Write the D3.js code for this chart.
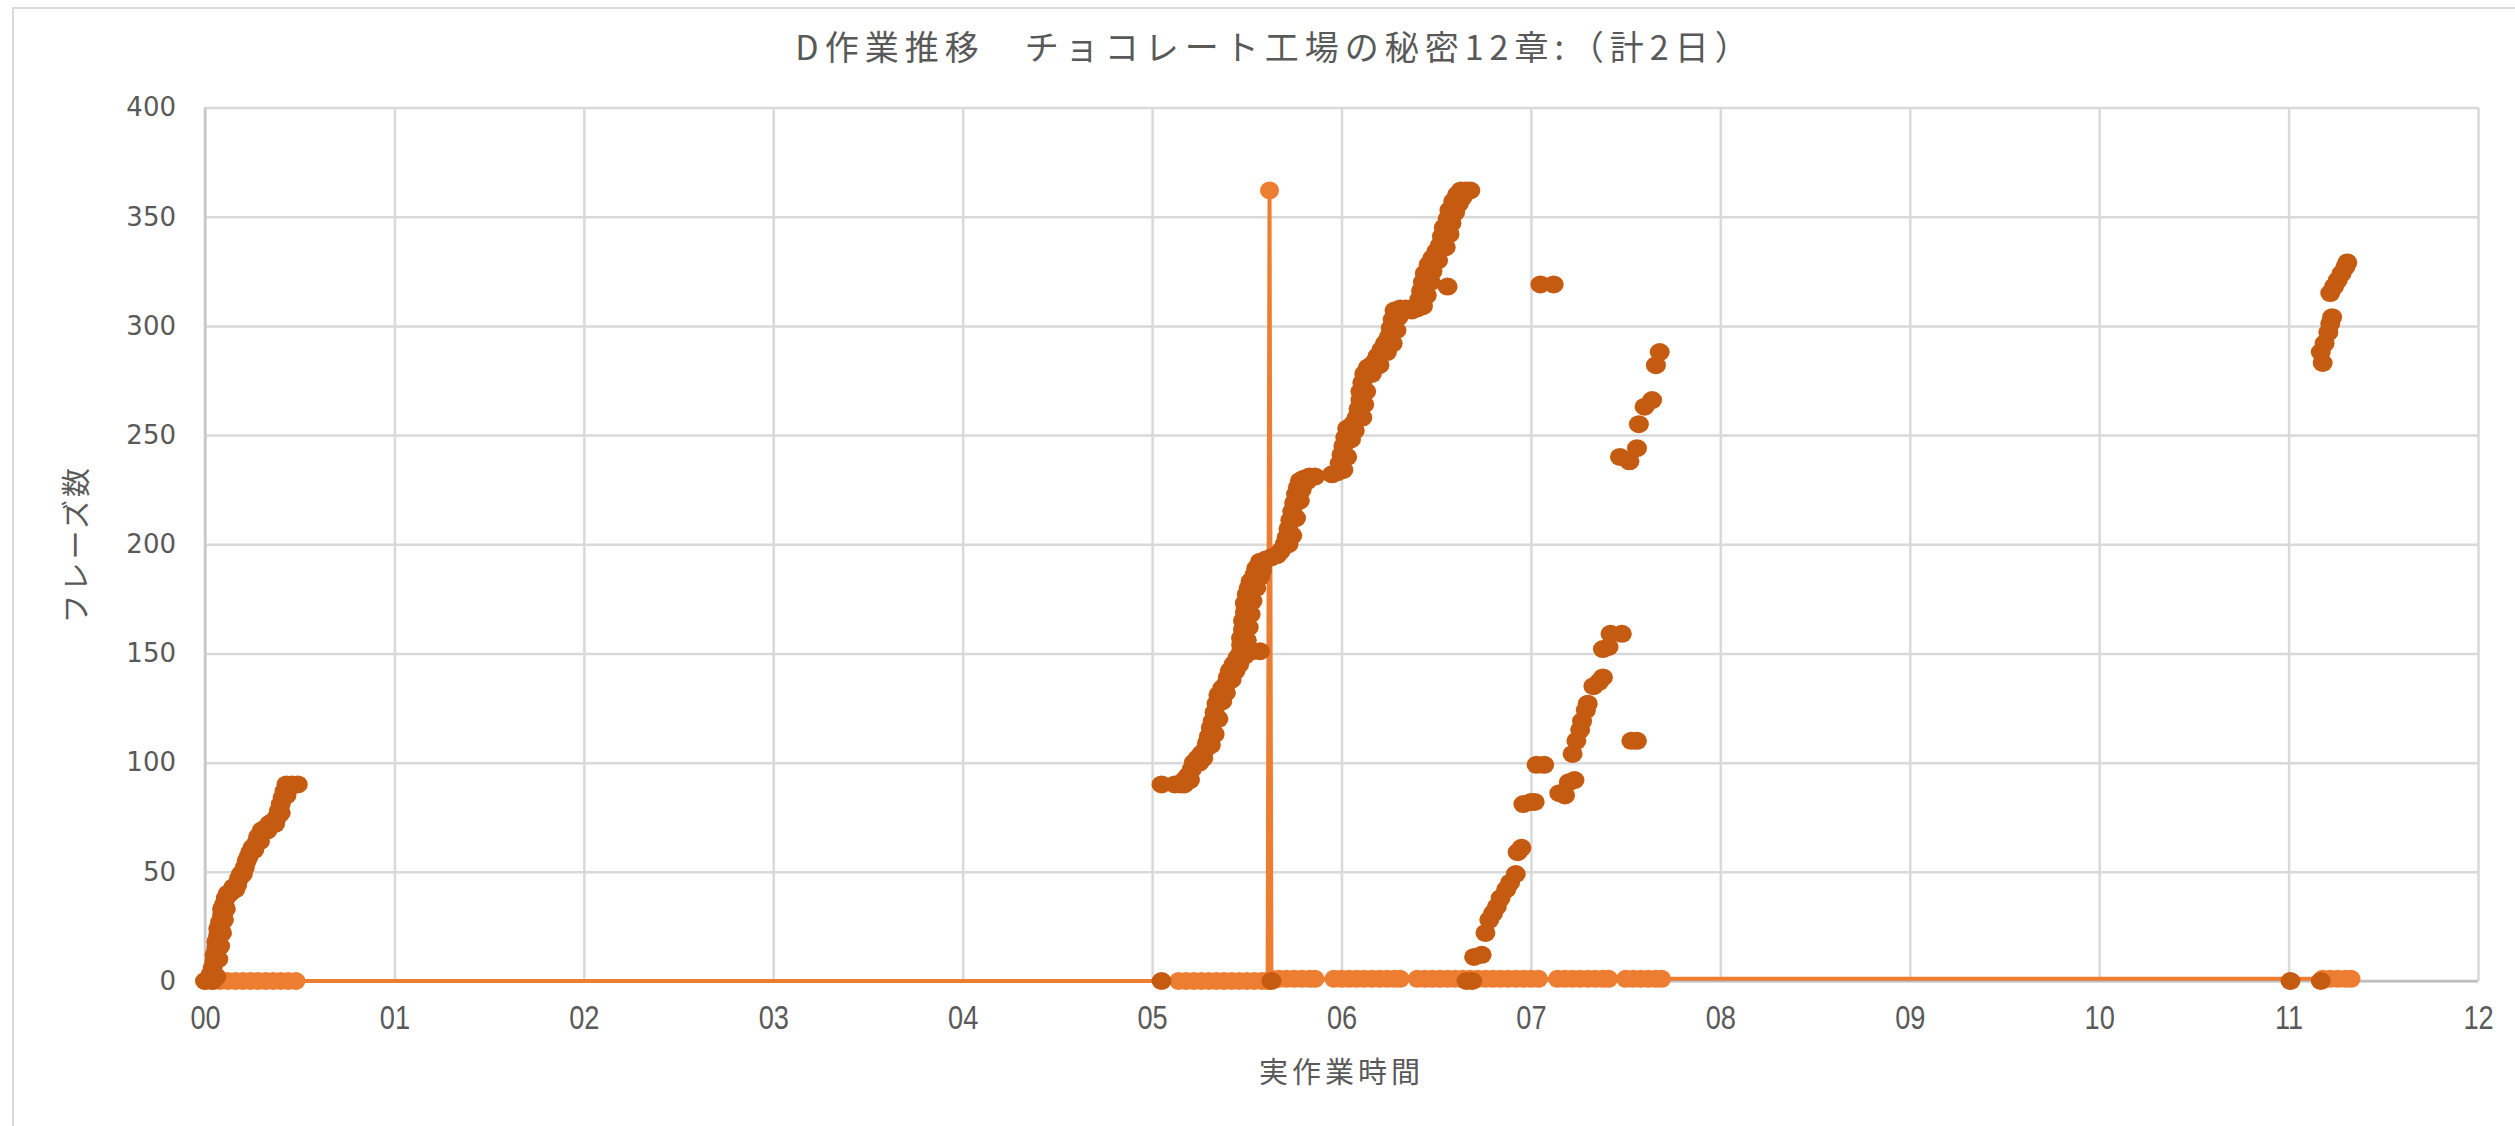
<!DOCTYPE html>
<html>
<head>
<meta charset="utf-8">
<script src="https://cdn.jsdelivr.net/npm/d3@7"></script>
<style>
  html, body { margin: 0; padding: 0; background: #ffffff; }
  svg { display: block; }
</style>
</head>
<body>
<svg id="chart" width="2515" height="1126"></svg>
<script>
// ---- chart text ----
const chartTitle = "D作業推移　チョコレート工場の秘密12章:（計2日）";
const xAxisTitle = "実作業時間";
const yAxisTitle = "フレーズ数";

// ---- axis ticks ----
const xTickValues = [0, 1, 2, 3, 4, 5, 6, 7, 8, 9, 10, 11, 12];
const xTickLabels = ["00", "01", "02", "03", "04", "05", "06", "07", "08", "09", "10", "11", "12"];
const yTickValues = [0, 50, 100, 150, 200, 250, 300, 350, 400];

// ---- phrase count against working time (hours) ----
const session1 = [
  [0.00, 0], [0.02, 1], [0.04, 0], [0.06, 2], [0.03, 3], [0.04, 6], [0.05, 9], [0.05, 12],
  [0.06, 15], [0.06, 18], [0.07, 21], [0.07, 24], [0.08, 27], [0.09, 30], [0.09, 33], [0.10, 35],
  [0.07, 10], [0.08, 16], [0.09, 22], [0.10, 28], [0.11, 33],
  [0.11, 38], [0.12, 40], [0.13, 40], [0.14, 41], [0.15, 43], [0.16, 42], [0.17, 44], [0.18, 47],
  [0.19, 49], [0.20, 49], [0.21, 52], [0.22, 55], [0.23, 57], [0.24, 59], [0.25, 61], [0.26, 60],
  [0.27, 63], [0.28, 66], [0.29, 64], [0.30, 69], [0.32, 70], [0.33, 69], [0.34, 72], [0.36, 73],
  [0.37, 72], [0.38, 75], [0.39, 78], [0.40, 81], [0.40, 77], [0.41, 84], [0.42, 87], [0.43, 85],
  [0.43, 90], [0.44, 88], [0.46, 90], [0.49, 90]
];
const session2 = [
  [5.05, 0], [5.05, 90], [5.12, 90], [5.15, 90], [5.17, 90], [5.17, 92], [5.19, 94], [5.20, 92],
  [5.21, 97], [5.22, 100], [5.24, 102], [5.25, 100], [5.26, 104], [5.27, 102], [5.28, 106],
  [5.29, 109], [5.30, 112], [5.31, 108], [5.31, 116], [5.32, 119], [5.33, 113], [5.33, 123],
  [5.34, 127], [5.35, 120], [5.35, 131], [5.37, 128], [5.37, 134], [5.39, 132], [5.39, 136],
  [5.40, 139], [5.41, 142], [5.42, 138], [5.43, 145], [5.44, 142], [5.45, 148], [5.46, 145],
  [5.47, 151], [5.49, 149], [5.50, 151], [5.53, 151], [5.57, 151],
  [5.47, 154], [5.47, 157], [5.48, 161], [5.48, 165], [5.49, 169], [5.49, 173], [5.50, 177],
  [5.50, 156], [5.51, 162], [5.52, 168], [5.53, 174], [5.55, 180], [5.57, 185], [5.58, 188],
  [5.51, 180], [5.52, 183], [5.54, 186], [5.55, 189], [5.57, 192], [5.60, 193], [5.63, 194],
  [5.66, 195], [5.68, 197], [5.70, 200], [5.72, 200], [5.71, 203], [5.74, 204], [5.72, 207],
  [5.73, 211], [5.76, 212], [5.74, 215], [5.75, 219], [5.78, 220], [5.76, 223], [5.77, 226],
  [5.79, 225], [5.78, 229], [5.80, 230], [5.82, 229], [5.83, 231], [5.86, 231],
  [5.63, 0],
  [5.95, 232], [5.98, 233], [5.99, 237], [6.01, 234], [6.00, 241], [6.03, 240], [6.01, 245],
  [6.02, 249], [6.05, 248], [6.03, 253], [6.07, 252], [6.06, 255], [6.08, 258], [6.11, 258],
  [6.09, 262], [6.12, 264], [6.10, 266], [6.10, 270], [6.13, 270], [6.11, 274], [6.12, 278],
  [6.16, 278], [6.14, 281], [6.17, 283], [6.20, 282], [6.19, 286], [6.21, 289], [6.24, 288],
  [6.23, 292], [6.27, 292], [6.25, 295], [6.26, 299], [6.29, 298], [6.27, 303], [6.30, 304],
  [6.28, 307], [6.31, 308], [6.34, 308], [6.37, 307], [6.40, 308], [6.43, 309], [6.41, 312],
  [6.45, 314], [6.42, 316], [6.43, 320], [6.47, 320], [6.44, 324], [6.48, 325], [6.46, 328],
  [6.51, 330], [6.48, 331], [6.50, 334], [6.52, 337], [6.55, 336], [6.53, 341], [6.57, 342],
  [6.54, 345], [6.58, 347], [6.56, 349], [6.60, 352], [6.57, 353], [6.62, 356], [6.59, 357],
  [6.64, 359], [6.61, 360], [6.63, 362], [6.66, 362], [6.68, 362], [6.56, 318]
];
const session3 = [
  [6.66, 0], [6.69, 0], [6.70, 11], [6.74, 12], [6.76, 22], [6.78, 28], [6.80, 31], [6.82, 34],
  [6.84, 38], [6.87, 42], [6.89, 45], [6.92, 49], [6.93, 59], [6.95, 61], [6.96, 81], [7.00, 82],
  [7.02, 82], [7.03, 99], [7.07, 99], [7.15, 86], [7.18, 85], [7.20, 91], [7.23, 92], [7.22, 104],
  [7.24, 110], [7.26, 115], [7.27, 119], [7.29, 124], [7.30, 127], [7.33, 135], [7.36, 137],
  [7.38, 139], [7.38, 152], [7.41, 153], [7.42, 159], [7.48, 159], [7.53, 110], [7.56, 110],
  [7.05, 319], [7.12, 319], [7.47, 240], [7.52, 238], [7.56, 244], [7.57, 255], [7.60, 263],
  [7.64, 266], [7.66, 282], [7.68, 288]
];
const session4 = [
  [11.01, 0], [11.17, 0], [11.18, 283], [11.17, 288], [11.19, 292], [11.21, 297], [11.22, 301],
  [11.23, 304], [11.22, 315], [11.24, 318], [11.26, 321], [11.28, 324], [11.30, 327], [11.31, 329]
];

// ---- work marker series (line with markers) ----
const workMarks = [
  [0.00, 0], [0.04, 0], [0.08, 0], [0.12, 0], [0.16, 0], [0.20, 0], [0.24, 0], [0.28, 0],
  [0.32, 0], [0.36, 0], [0.40, 0], [0.44, 0], [0.48, 0],
  [5.14, 0], [5.18, 0], [5.22, 0], [5.26, 0], [5.30, 0], [5.34, 0], [5.38, 0], [5.42, 0],
  [5.46, 0], [5.50, 0], [5.54, 0], [5.58, 0], [5.61, 0],
  [5.62, 362],
  [5.63, 1], [5.67, 1], [5.71, 1], [5.75, 1], [5.79, 1], [5.83, 1], [5.86, 1],
  [5.96, 1], [6.00, 1], [6.04, 1], [6.08, 1], [6.12, 1], [6.16, 1], [6.20, 1], [6.24, 1],
  [6.28, 1], [6.31, 1],
  [6.40, 1], [6.44, 1], [6.48, 1], [6.52, 1], [6.56, 1], [6.60, 1], [6.64, 1], [6.68, 1],
  [6.72, 1], [6.76, 1], [6.80, 1], [6.84, 1], [6.88, 1], [6.92, 1], [6.96, 1], [7.00, 1], [7.04, 1],
  [7.14, 1], [7.18, 1], [7.22, 1], [7.26, 1], [7.30, 1], [7.34, 1], [7.38, 1], [7.41, 1],
  [7.50, 1], [7.54, 1], [7.58, 1], [7.62, 1], [7.66, 1], [7.69, 1],
  [11.18, 1], [11.22, 1], [11.26, 1], [11.30, 1], [11.33, 1]
];

const phrasePoints = [].concat(session1, session2, session3, session4);

// ---- layout ----
const svg = d3.select("#chart");
const plot = { left: 205, right: 2478, top: 107.5, bottom: 981 };
const x = d3.scaleLinear().domain([0, 12]).range([plot.left, plot.right]);
const y = d3.scaleLinear().domain([0, 400]).range([plot.bottom, plot.top]);

const textColor = "#595959";
const gridColor = "#d9d9d9";
const lightOrange = "#ED7D31";
const darkOrange = "#C55A11";

// outer chart border
svg.append("rect")
  .attr("x", 13).attr("y", 8)
  .attr("width", 2600).attr("height", 1300)
  .attr("fill", "none").attr("stroke", gridColor).attr("stroke-width", 2);

// gridlines
const gridY = svg.append("g")
  .attr("transform", `translate(${plot.left},0)`)
  .call(d3.axisLeft(y).tickValues(yTickValues).tickSize(-(plot.right - plot.left)).tickFormat(""));
gridY.select(".domain").remove();
gridY.selectAll("line").attr("stroke", gridColor).attr("stroke-width", 2.5);

const gridX = svg.append("g")
  .attr("transform", `translate(0,${plot.bottom})`)
  .call(d3.axisBottom(x).tickValues(xTickValues).tickSize(-(plot.bottom - plot.top)).tickFormat(""));
gridX.select(".domain").remove();
gridX.selectAll("line").attr("stroke", gridColor).attr("stroke-width", 2.5);

// axis lines
svg.append("line")
  .attr("x1", plot.left).attr("x2", plot.right)
  .attr("y1", y(0)).attr("y2", y(0))
  .attr("stroke", "#bfbfbf").attr("stroke-width", 2.5);
svg.append("line")
  .attr("x1", x(0)).attr("x2", x(0))
  .attr("y1", plot.top).attr("y2", plot.bottom)
  .attr("stroke", "#c8c8c8").attr("stroke-width", 2.5);

// tick labels
const yAxis = svg.append("g")
  .attr("transform", `translate(${plot.left},0)`)
  .call(d3.axisLeft(y).tickValues(yTickValues).tickSize(0).tickPadding(29));
yAxis.select(".domain").remove();
yAxis.selectAll("text")
  .attr("fill", textColor)
  .style("font-family", "'DejaVu Sans', sans-serif")
  .style("font-size", "26px");

const xAxis = svg.append("g")
  .attr("transform", `translate(0,${plot.bottom})`)
  .call(d3.axisBottom(x).tickValues(xTickValues).tickSize(0).tickPadding(24)
    .tickFormat((d, i) => xTickLabels[i]));
xAxis.select(".domain").remove();
xAxis.selectAll("text")
  .attr("fill", textColor)
  .attr("transform", "scale(0.8,1)")
  .style("font-family", "'Liberation Sans', sans-serif")
  .style("font-size", "34px");

// work marker series: line then markers
svg.append("path")
  .datum(workMarks)
  .attr("fill", "none")
  .attr("stroke", lightOrange)
  .attr("stroke-width", 4)
  .attr("stroke-linejoin", "round")
  .attr("d", d3.line().x(d => x(d[0])).y(d => y(d[1])));

svg.append("g").selectAll("ellipse")
  .data(workMarks)
  .join("ellipse")
  .attr("cx", d => x(d[0])).attr("cy", d => y(d[1]))
  .attr("rx", 9.5).attr("ry", 9)
  .attr("fill", lightOrange);

// phrase count markers
svg.append("g").selectAll("ellipse")
  .data(phrasePoints)
  .join("ellipse")
  .attr("cx", d => x(d[0])).attr("cy", d => y(d[1]))
  .attr("rx", 10).attr("ry", 9)
  .attr("fill", darkOrange);

// titles
svg.append("text")
  .attr("x", 1275).attr("y", 60)
  .attr("text-anchor", "middle")
  .attr("fill", textColor)
  .style("font-family", "'Noto Sans CJK JP', sans-serif")
  .style("font-size", "34px")
  .style("letter-spacing", "6px")
  .text(chartTitle);

svg.append("text")
  .attr("x", (plot.left + plot.right) / 2).attr("y", 1083)
  .attr("text-anchor", "middle")
  .attr("fill", textColor)
  .style("font-family", "'Noto Sans CJK JP', sans-serif")
  .style("font-size", "29px")
  .style("letter-spacing", "4px")
  .text(xAxisTitle);

svg.append("text")
  .attr("transform", `translate(87,${(plot.top + plot.bottom) / 2}) rotate(-90)`)
  .attr("text-anchor", "middle")
  .attr("fill", textColor)
  .style("font-family", "'Noto Sans CJK JP', sans-serif")
  .style("font-size", "29px")
  .style("letter-spacing", "3px")
  .text(yAxisTitle);
</script>
</body>
</html>
